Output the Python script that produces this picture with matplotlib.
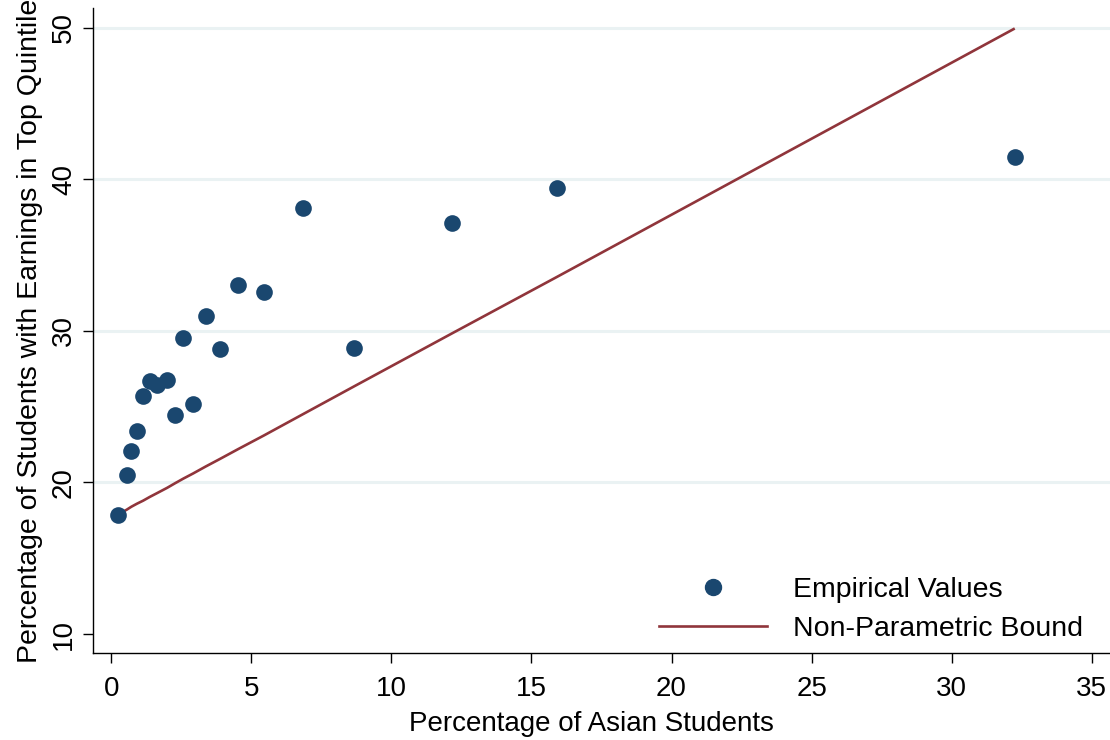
import matplotlib
matplotlib.use("Agg")
import matplotlib.pyplot as plt
from matplotlib.lines import Line2D

plt.rcParams['font.family'] = ['Liberation Sans', 'DejaVu Sans']

# Data
asian_pct = [0.25, 0.55, 0.72, 0.92, 1.14, 1.38, 1.64, 2.0, 2.28, 2.57, 2.93,
             3.37, 3.88, 4.53, 5.45, 6.84, 8.68, 12.18, 15.90, 32.25]
top_quintile = [17.85, 20.5, 22.05, 23.4, 25.7, 26.7, 26.4, 26.75, 24.45, 29.55, 25.2,
                30.95, 28.8, 33.0, 32.55, 38.1, 28.9, 37.1, 39.45, 41.45]
bound = [17.9, 18.2, 18.4, 18.6, 18.8, 19.05, 19.3, 19.65, 19.95, 20.25, 20.6,
         21.05, 21.55, 22.2, 23.1, 24.5, 26.35, 29.85, 33.55, 49.95]

x_ticks = [0, 5, 10, 15, 20, 25, 30, 35]
y_ticks = [10, 20, 30, 40, 50]
grid_ticks = [20, 30, 40, 50]

navy = '#1a476f'
maroon = '#90353b'
grid_c = '#eaf2f3'

fig = plt.figure(figsize=(11.1, 7.4), dpi=100)
ax = fig.add_axes([93/1110, 1 - 653/740, (1110 - 93)/1110, (653 - 8)/740])

for g in grid_ticks:
    ax.axhline(g, color=grid_c, lw=2.2, zorder=0)

ax.plot(asian_pct, bound, color=maroon, lw=1.9, zorder=2, solid_capstyle='butt')
ax.scatter(asian_pct, top_quintile, s=12**2, color=navy, zorder=3, linewidths=0)

ax.set_xlim(-0.65, 35.65)
ax.set_ylim(8.75, 51.3)
ax.set_xticks(x_ticks)
ax.set_yticks(y_ticks)
ax.tick_params(axis='x', direction='out', length=7.5, width=1.0, labelsize=20, pad=9)
ax.tick_params(axis='y', direction='out', length=7.5, width=1.0, labelsize=20, pad=4)
for lab in ax.get_yticklabels():
    lab.set_rotation(90)
    lab.set_va('center')
ax.spines['top'].set_visible(False)
ax.spines['right'].set_visible(False)
ax.spines['left'].set_linewidth(1.0)
ax.spines['bottom'].set_linewidth(1.0)

ax.set_xlabel('Percentage of Asian Students', fontsize=20, labelpad=5)
ax.xaxis.set_label_coords((591 - 93) / (1110 - 93), -(738 - 653) / (653 - 8), transform=None)
ax.xaxis.label.set_position(((591 - 93) / (1110 - 93), 0))
ax.xaxis.set_label_coords((591 - 93) / (1110 - 93), -(737 - 653) / (653 - 8))
ax.xaxis.label.set_va('bottom')
ax.set_ylabel('Percentage of Students with Earnings in Top Quintile', fontsize=20.5, labelpad=6)

handles = [Line2D([], [], marker='o', ls='none', color=navy, markersize=11.5),
           Line2D([], [], color=maroon, lw=1.9)]
leg = ax.legend(handles, ['Empirical Values', 'Non-Parametric Bound'],
                loc='lower right', frameon=False, fontsize=20.5,
                handlelength=3.8, handletextpad=0.9, labelspacing=0.45,
                borderaxespad=0, borderpad=0)
leg.set_bbox_to_anchor((1083/1110, 1 - 642/740), transform=fig.transFigure)

fig.savefig('out.png', dpi=100, facecolor='white')
